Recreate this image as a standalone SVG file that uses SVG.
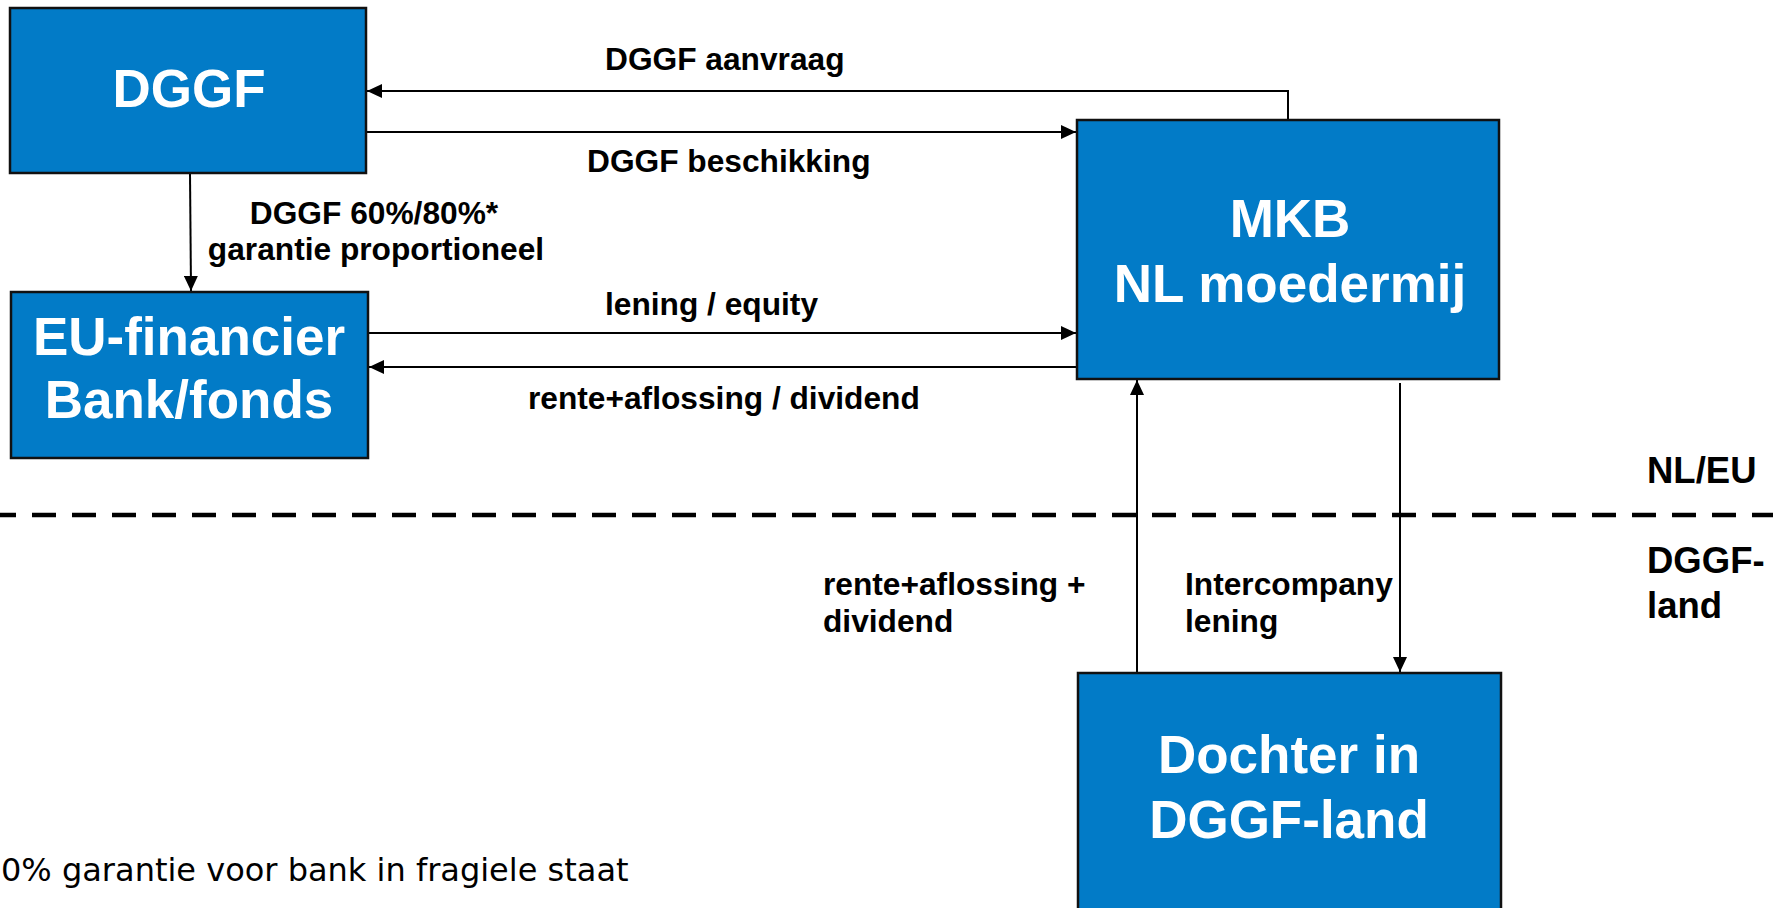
<svg xmlns="http://www.w3.org/2000/svg" width="1773" height="908" viewBox="0 0 1773 908">
<style>
.box{fill:#027BC7;stroke:#111;stroke-width:2.5}
.bt{font-family:"Liberation Sans",Arial,sans-serif;font-weight:bold;font-size:53px;fill:#fff;text-anchor:middle}
.lb{font-family:"Liberation Sans",Arial,sans-serif;font-weight:bold;font-size:31.7px;fill:#000}
.rg{font-family:"Liberation Sans",Arial,sans-serif;font-weight:bold;font-size:36.5px;fill:#000}
.cn{fill:none;stroke:#000;stroke-width:2}
.fn{font-family:"DejaVu Sans",Verdana,sans-serif;font-size:32px;fill:#000}
</style>
<defs>
<marker id="ah" viewBox="0 0 15 14" refX="15" refY="7" markerWidth="15" markerHeight="14" markerUnits="userSpaceOnUse" orient="auto">
<path d="M0,0 L15,7 L0,14 Z" fill="#000"/>
</marker>
</defs>
<rect width="1773" height="908" fill="#fff"/>
<line x1="-8" y1="515" x2="1780" y2="515" stroke="#000" stroke-width="4.5" stroke-dasharray="24 16"/>
<g id="connectors">
<path class="cn" d="M1288,120 V91 H367" marker-end="url(#ah)"/>
<path class="cn" d="M366,132 H1076" marker-end="url(#ah)"/>
<path class="cn" d="M190,173 L191,291" marker-end="url(#ah)"/>
<path class="cn" d="M368,333 H1076" marker-end="url(#ah)"/>
<path class="cn" d="M1077,367 H369" marker-end="url(#ah)"/>
<path class="cn" d="M1400,383 V672" marker-end="url(#ah)"/>
<path class="cn" d="M1137,673 V380" marker-end="url(#ah)"/>
</g>
<g id="node-dggf">
<rect class="box" x="10" y="8" width="356" height="165"/>
<text class="bt" x="189" y="107">DGGF</text>
</g>
<g id="node-eu">
<rect class="box" x="11" y="292" width="357" height="166"/>
<text class="bt" x="189" y="355">EU-financier</text>
<text class="bt" x="189" y="418">Bank/fonds</text>
</g>
<g id="node-mkb">
<rect class="box" x="1077" y="120" width="422" height="259"/>
<text class="bt" x="1290" y="237">MKB</text>
<text class="bt" x="1290" y="302">NL moedermij</text>
</g>
<g id="node-dochter">
<rect class="box" x="1078" y="673" width="423" height="250"/>
<text class="bt" x="1289" y="773">Dochter in</text>
<text class="bt" x="1289" y="838">DGGF-land</text>
</g>
<g id="labels">
<text class="lb" x="605" y="70">DGGF aanvraag</text>
<text class="lb" x="587" y="172">DGGF beschikking</text>
<text class="lb" x="374" y="224" text-anchor="middle">DGGF 60%/80%*</text>
<text class="lb" x="376" y="260" text-anchor="middle">garantie proportioneel</text>
<text class="lb" x="605" y="315">lening / equity</text>
<text class="lb" x="528" y="409">rente+aflossing / dividend</text>
<text class="lb" x="823" y="595">rente+aflossing +</text>
<text class="lb" x="823" y="632">dividend</text>
<text class="lb" x="1185" y="595">Intercompany</text>
<text class="lb" x="1185" y="632">lening</text>
<text class="rg" x="1647" y="483">NL/EU</text>
<text class="rg" x="1647" y="573">DGGF-</text>
<text class="rg" x="1647" y="618">land</text>
<text class="fn" x="1" y="881">0% garantie voor bank in fragiele staat</text>
</g>
</svg>
